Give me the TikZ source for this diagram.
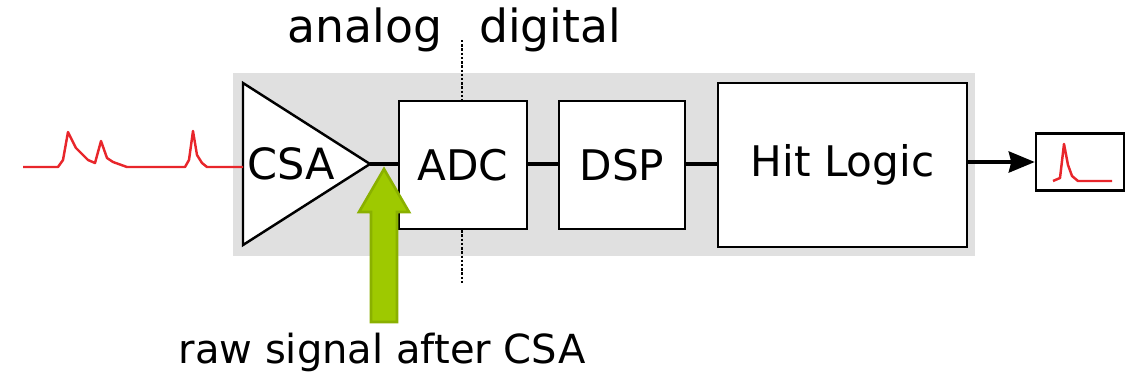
\documentclass[tikz,border=0pt]{standalone}
\usepackage{fontspec}
\setmainfont{DejaVu Sans}
\usepackage{tikz}
\usetikzlibrary{arrows.meta}
\definecolor{bggray}{HTML}{E0E0E0}
\definecolor{sigred}{HTML}{E8262B}
\definecolor{limefill}{HTML}{9EC900}
\definecolor{limeedge}{HTML}{8AB000}
\tikzset{
  block/.style={draw=black, line width=1.4pt, fill=white, inner sep=0pt,
    font=\fontsize{24}{29}\selectfont},
  wire/.style={line width=2.2pt},
  sig/.style={sigred, line width=1.4pt, line join=round},
  divider/.style={dash pattern=on 1.4pt off 1pt, line width=1.4pt}
}
\begin{document}
\begin{tikzpicture}[x=0.02cm,y=-0.02cm]
		\useasboundingbox (0,0) rectangle (1125,376);
		% grey chip area
		\fill [bggray] (233,73) rectangle (975,256);
		% charge sensitive amplifier
		\coordinate (csatop) at (243,83);
		\coordinate (csabot) at (243,245);
		\coordinate (csaout) at (370,164);
		\draw [black, fill=white, line width=1.4pt, line join=miter] (csatop) -- (csaout) -- (csabot) -- cycle;
		\node [font=\fontsize{24.5}{29}\selectfont] (csa) at (291,164) {CSA};
		% blocks
		\node [block, minimum width=2.56cm, minimum height=2.56cm] (adc) at (463,165) {ADC};
		\node [block, minimum width=2.52cm, minimum height=2.56cm] (dsp) at (622,165) {DSP};
		\node [block, minimum width=4.98cm, minimum height=3.28cm] (hit) at (842.5,165) {Hit Logic};
		\node [draw=black, line width=1.4pt, fill=white, minimum width=1.76cm, minimum height=1.14cm] (out) at (1080,162) {};
		\draw [wire] (csaout) -- (adc.west |- csaout);
		\draw [wire] (adc.east |- csaout) -- (dsp.west |- csaout);
		\draw [wire] (dsp.east |- csaout) -- (hit.west |- csaout);
		\draw [wire, -{Stealth[length=0.52cm, width=0.42cm, inset=0.05cm]}] (hit.east |- out) -- (out.west);
		% analog / digital border
		\coordinate (cuttop) at (462,40);
		\coordinate (cutbot) at (462,283);
		\draw [divider] (cuttop) -- (adc.north -| cuttop);
		\draw [divider] (adc.south -| cutbot) -- (cutbot);
		\node [font=\fontsize{26}{30}\selectfont] (ana) at (365,30) {analog};
		\node [font=\fontsize{26}{30}\selectfont] (dig) at (550,30) {digital};
		% input signal
		\draw [sig] (23,167) -- (58,167) -- (63,160) -- (68,132) -- (76,148) -- (88,160) -- (95,163)
		  -- (101,141) -- (107,158) -- (113,162) -- (127,167) -- (185,167) -- (189,160) -- (193,131)
		  -- (197,155) -- (202,163) -- (207,167) -- (243,167);
		% output pulse
		\draw [sig] (1053,181) -- (1060,178) -- (1064,144) -- (1068,165) -- (1072,176) -- (1078,181) -- (1112,181);
		% probe arrow
		\coordinate (probetip) at (384,169);
		\draw [limeedge, fill=limefill, line width=1.5pt, line join=miter]
		  (371,322) -- (371,212) -- (359,212) -- (probetip) -- (409,212) -- (397,212) -- (397,322) -- cycle;
		\node [font=\fontsize{22.8}{27}\selectfont] (probe) at (382,352) {raw signal after CSA};
\end{tikzpicture}
\end{document}
